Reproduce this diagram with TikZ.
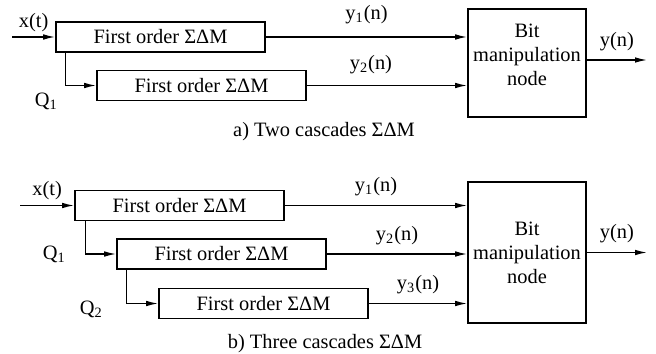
\documentclass[tikz,border=0pt]{standalone}
\usepackage{fontspec}
\setmainfont{Liberation Serif}
\usetikzlibrary{arrows.meta}

\begin{document}
\begin{tikzpicture}[x=0.5pt, y=-0.5pt, >={Latex[length=6pt,width=2.8pt]},
  every node/.style={font=\fontsize{10.2}{12}\selectfont},
  sdm/.style={draw, line width=0.8pt, minimum width=104.5pt, minimum height=15pt, inner sep=0pt},
  bitbox/.style={draw, line width=0.8pt, minimum width=59pt, align=center, inner sep=0pt},
  sig/.style={->, line width=0.7pt}]

\useasboundingbox (0,0) rectangle (656,353);

% Two cascades
\node[sdm] (A1) at (160.5,37) {First order ΣΔM};
\node[sdm] (A2) at (201.5,85.5) {First order ΣΔM};
\node[bitbox, minimum height=54pt, text depth=8pt] (bitA) at (527,63) {Bit\\manipulation\\node};
\coordinate (inA) at (12,37);
\coordinate (outA) at (647,60);
\draw[sig] (inA) -- node[above=-1pt] {x(t)} (A1);
\draw[sig] ([xshift=5pt]A1.south west) |- node[pos=0.5, below left] {Q\textsubscript{1}} (A2);
\draw[sig] (A1) -- node[above=3pt] {y\textsubscript{1}(n)} (A1 -| bitA.west);
\draw[sig] (A2) -- node[pos=0.4, above=2pt] {y\textsubscript{2}(n)} (A2 -| bitA.west);
\draw[sig] (bitA.east |- outA) -- node[above=1pt] {y(n)} (outA);
\node (capA) at (324,132) {a) Two cascades ΣΔM};

% Three cascades
\node[sdm] (B1) at (179.5,205.5) {First order ΣΔM};
\node[sdm] (B2) at (221.5,254) {First order ΣΔM};
\node[sdm] (B3) at (263.5,303.5) {First order ΣΔM};
\node[bitbox, minimum height=70.5pt] (bitB) at (527,252.5) {Bit\\manipulation\\node};
\coordinate (inB) at (20,205.5);
\coordinate (outB) at (647,252.5);
\draw[sig] (inB) -- node[above=-1pt] {x(t)} (B1);
\draw[sig] ([xshift=5.5pt]B1.south west) |- node[pos=0.5, left=6pt] {Q\textsubscript{1}} (B2);
\draw[sig] ([xshift=5pt]B2.south west) |- node[pos=0.5, left=8pt, yshift=-3pt] {Q\textsubscript{2}} (B3);
\draw[sig] (B1) -- node[above=1pt] {y\textsubscript{1}(n)} (B1 -| bitB.west);
\draw[sig] (B2) -- node[above=1pt] {y\textsubscript{2}(n)} (B2 -| bitB.west);
\draw[sig] (B3) -- node[above=1pt] {y\textsubscript{3}(n)} (B3 -| bitB.west);
\draw[sig] (bitB) -- node[above=1pt] {y(n)} (outB);
\node (capB) at (325,344) {b) Three cascades ΣΔM};

\end{tikzpicture}
\end{document}
